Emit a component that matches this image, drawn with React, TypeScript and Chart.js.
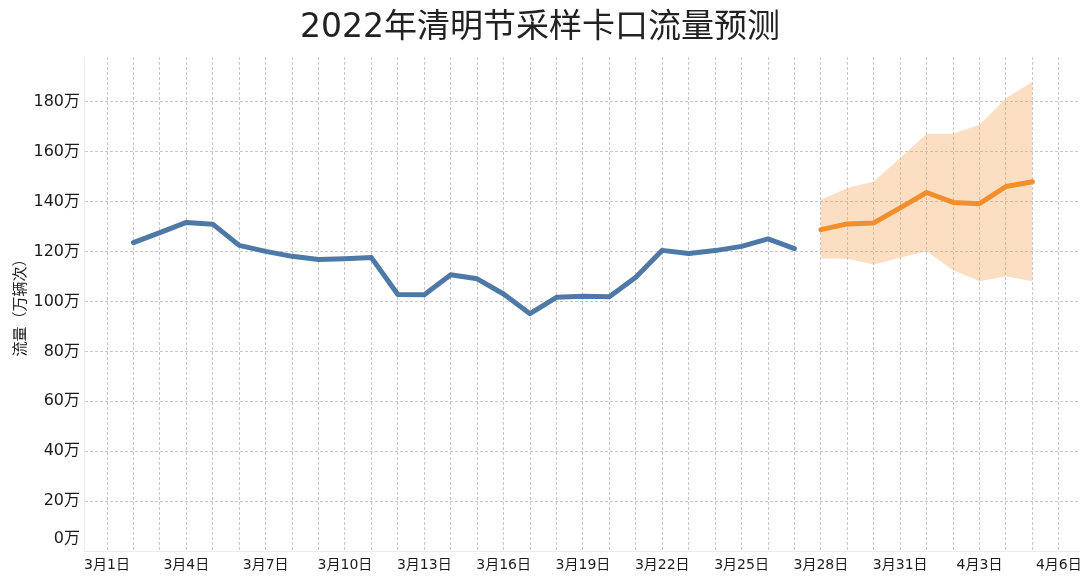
import React, { useEffect, useRef } from "react";
import { Chart, registerables } from "chart.js";

Chart.register(...registerables);

// Day index 0 = 3月1日
const actualStartDay = 1; // 3月2日
const actualValues = [
  123.6, 127.6, 131.7, 131.0, 122.5, 120.1, 118.1, 116.8, 117.1, 117.6,
  102.8, 102.7, 110.7, 109.1, 103.0, 95.1, 101.7, 102.1, 101.9, 109.7,
  120.5, 119.2, 120.4, 122.1, 125.1, 121.2,
];

const forecastStartDay = 27; // 3月28日
const forecastValues = [128.8, 131.1, 131.5, 137.5, 143.7, 139.7, 139.2, 146.1, 148.0];
const forecastUpper = [140.8, 145.5, 148.1, 157.5, 167.2, 167.2, 170.8, 181.5, 188.1];
const forecastLower = [117.2, 117.1, 114.8, 117.5, 120.1, 112.5, 108.1, 110.1, 108.1];

const dayCount = 37; // 3月1日 .. 4月6日
const yTickValues = [0, 20, 40, 60, 80, 100, 120, 140, 160, 180];

const titleText = "2022年清明节采样卡口流量预测";
const yAxisTitle = "流量（万辆次）";

const dayLabel = (d: number) => (d <= 30 ? `3月${d + 1}日` : `4月${d - 30}日`);

const toPoints = (start: number, vals: number[]) =>
  vals.map((v, i) => ({ x: start + i, y: v }));

const FONT = "'DejaVu Sans', 'Noto Sans CJK SC', sans-serif";

export default function App() {
  const ref = useRef<HTMLCanvasElement | null>(null);

  useEffect(() => {
    if (!ref.current) return;
    const chart = new Chart(ref.current, {
      type: "line",
      data: {
        datasets: [
          {
            label: "实际",
            data: toPoints(actualStartDay, actualValues),
            borderColor: "#4e79a7",
            borderWidth: 5,
            pointRadius: 0,
            tension: 0,
            borderCapStyle: "round",
            borderJoinStyle: "round",
            fill: false,
          },
          {
            label: "预测",
            data: toPoints(forecastStartDay, forecastValues),
            borderColor: "#f28e2b",
            borderWidth: 5,
            pointRadius: 0,
            tension: 0,
            borderCapStyle: "round",
            borderJoinStyle: "round",
            fill: false,
          },
          {
            label: "上限",
            data: toPoints(forecastStartDay, forecastUpper),
            borderWidth: 0,
            borderColor: "rgba(0,0,0,0)",
            pointRadius: 0,
            tension: 0,
            backgroundColor: "rgba(245,160,80,0.35)",
            fill: "+1",
          },
          {
            label: "下限",
            data: toPoints(forecastStartDay, forecastLower),
            borderWidth: 0,
            borderColor: "rgba(0,0,0,0)",
            pointRadius: 0,
            tension: 0,
            fill: false,
          },
        ],
      },
      options: {
        animation: false,
        responsive: true,
        maintainAspectRatio: false,
        layout: { padding: 0 },
        plugins: {
          legend: { display: false },
          tooltip: { enabled: false },
          title: {
            display: true,
            text: titleText,
            color: "#222",
            font: { family: FONT, size: 33, weight: "normal" },
            padding: { top: 9, bottom: 8.4 },
          },
        },
        scales: {
          x: {
            type: "linear",
            min: -0.87,
            max: 36.8,
            afterBuildTicks: (axis: any) => {
              axis.ticks = Array.from({ length: dayCount }, (_, i) => ({ value: i }));
            },
            afterFit: (axis: any) => {
              axis.height = 26;
              axis.paddingLeft = 0;
              axis.paddingRight = 0;
            },
            ticks: {
              autoSkip: false,
              maxRotation: 0,
              padding: 6,
              color: "#1a1a1a",
              font: { family: FONT, size: 14 },
              callback: (v: any) => {
                const d = Math.round(Number(v));
                return d % 3 === 0 ? dayLabel(d) : "";
              },
            },
            grid: {
              color: "#c8c8c8",
              lineWidth: 1,
              drawTicks: false,
            },
            border: { display: true, color: "#ececec", dash: [3, 2] },
          },
          y: {
            type: "linear",
            min: 0,
            max: 198,
            afterBuildTicks: (axis: any) => {
              axis.ticks = yTickValues.map((v) => ({ value: v }));
            },
            afterFit: (axis: any) => {
              axis.width = 84;
              axis.paddingTop = 0;
              axis.paddingBottom = 0;
            },
            ticks: {
              padding: 4,
              color: "#1a1a1a",
              font: (c: any) => ({
                family: FONT,
                size: 16,
                lineHeight: c.tick && c.tick.value === 0 ? 1.5 : 1.2,
              }),
              callback: (v: any) => (Number(v) === 0 ? ["0万", ""] : `${v}万`),
            },
            grid: {
              color: (c: any) => (c.tick && c.tick.value === 0 ? "rgba(0,0,0,0)" : "#c8c8c8"),
              lineWidth: 1,
              drawTicks: false,
            },
            border: { display: true, color: "#ececec", dash: [3, 2] },
            title: {
              display: true,
              text: yAxisTitle,
              color: "#222",
              font: { family: FONT, size: 15 },
              padding: { top: 12, bottom: 0 },
            },
          },
        },
      },
    });
    return () => chart.destroy();
  }, []);

  return (
    <div style={{ position: "absolute", left: 0, top: 0, width: 1080, height: 577, background: "#fff" }}>
      <canvas ref={ref} />
    </div>
  );
}
